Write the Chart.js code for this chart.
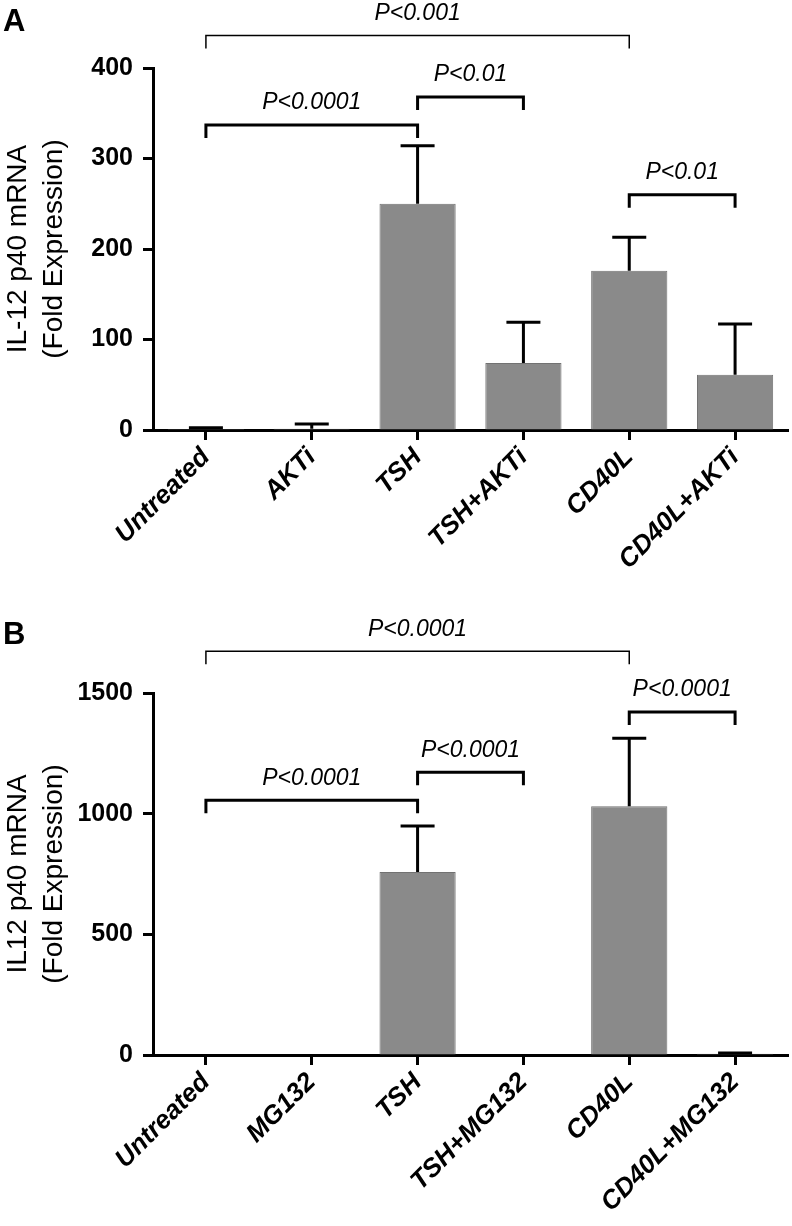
<!DOCTYPE html>
<html>
<head>
<meta charset="utf-8">
<script src="https://cdn.jsdelivr.net/npm/chart.js@4.4.1/dist/chart.umd.min.js"></script>
<style>
  body { margin: 0; background: #fff; width: 792px; height: 1226px; overflow: hidden; font-family: "Liberation Sans", Arial, sans-serif; }
  .panel { position: relative; width: 792px; height: 613px; }
  .letter { position: absolute; left: 3px; top: 5px; font-weight: bold; font-size: 31px; line-height: 31px; }
</style>
</head>
<body>
<div class="panel"><canvas id="chartA" width="792" height="613"></canvas><div class="letter">A</div></div>
<div class="panel"><canvas id="chartB" width="792" height="613"></canvas><div class="letter">B</div></div>
<script>
// panel A
const categoriesA = ["Untreated", "AKTi", "TSH", "TSH+AKTi", "CD40L", "CD40L+AKTi"]
const meansA = [1, 1.5, 250, 74, 176, 61]
const sdA = [1.5, 5, 64, 45, 37, 56]
const bracketFromA = [0, 0, 2, 4]
const bracketToA = [4, 2, 3, 5]
const bracketLevelA = [436, 337, 368, 260]
const bracketTextA = ["P<0.001", "P<0.0001", "P<0.01", "P<0.01"]

// panel B
const categoriesB = ["Untreated", "MG132", "TSH", "TSH+MG132", "CD40L", "CD40L+MG132"]
const meansB = [0, 0, 758, 0, 1031, 5]
const sdB = [0, 0, 191, 0, 282, 3]
const bracketFromB = [0, 0, 2, 4]
const bracketToB = [4, 2, 3, 5]
const bracketLevelB = [1673, 1056, 1172, 1421]
const bracketTextB = ["P<0.0001", "P<0.0001", "P<0.0001", "P<0.0001"]

const FONT = '"Liberation Sans", Arial, sans-serif'
Chart.defaults.font.family = FONT
Chart.defaults.color = '#000'

// upward SD whiskers with a cap
const errorBars = {
  id: 'errorBars',
  afterDatasetsDraw(chart, args, opts) {
    const ctx = chart.ctx
    const y = chart.scales.y
    const values = chart.data.datasets[0].data
    ctx.save()
    ctx.strokeStyle = '#000'
    ctx.lineWidth = 3
    chart.getDatasetMeta(0).data.forEach((bar, i) => {
      const sd = opts.sd[i]
      if (!sd) return
      const top = y.getPixelForValue(values[i] + sd)
      ctx.beginPath()
      ctx.moveTo(bar.x, bar.y)
      ctx.lineTo(bar.x, top)
      ctx.moveTo(bar.x - 17, top)
      ctx.lineTo(bar.x + 17, top)
      ctx.stroke()
    })
    ctx.restore()
  }
}

// significance brackets with p-value labels
const brackets = {
  id: 'brackets',
  afterDraw(chart, args, opts) {
    const ctx = chart.ctx
    const x = chart.scales.x
    const y = chart.scales.y
    ctx.save()
    ctx.strokeStyle = '#000'
    ctx.fillStyle = '#000'
    ctx.lineJoin = 'miter'
    ctx.font = 'italic 23px ' + FONT
    ctx.textAlign = 'center'
    ctx.textBaseline = 'middle'
    opts.from.forEach((from, k) => {
      const to = opts.to[k]
      const x1 = x.getPixelForValue(from)
      const x2 = x.getPixelForValue(to)
      const yy = y.getPixelForValue(opts.level[k])
      ctx.lineWidth = (to - from) > 2 ? 1.5 : 3
      ctx.beginPath()
      ctx.moveTo(x1, yy + 13)
      ctx.lineTo(x1, yy)
      ctx.lineTo(x2, yy)
      ctx.lineTo(x2, yy + 13)
      ctx.stroke()
      ctx.fillText(opts.text[k], (x1 + x2) / 2, yy - 22)
    })
    ctx.restore()
  }
}

function makeChart(el, cats, means, sd, yMax, yStep, yTitle, topPad, xHeight, br) {
  return new Chart(document.getElementById(el), {
    type: 'bar',
    data: {
      labels: cats,
      datasets: [{
        data: means,
        backgroundColor: '#8a8a8a',
        borderColor: '#727272',
        borderWidth: 1,
        barPercentage: 0.72,
        categoryPercentage: 1
      }]
    },
    options: {
      responsive: false,
      animation: false,
      layout: { padding: { top: topPad, right: 4, bottom: 0, left: 0 } },
      plugins: {
        legend: { display: false },
        tooltip: { enabled: false },
        errorBars: { sd: sd },
        brackets: br
      },
      scales: {
        x: {
          offset: true,
          grid: { offset: false, drawOnChartArea: false, tickLength: 10, tickWidth: 3, tickColor: '#000' },
          border: { display: true, color: '#000', width: 3 },
          ticks: {
            color: '#000',
            autoSkip: false,
            maxRotation: 45,
            minRotation: 45,
            padding: 2,
            font: { size: 26, weight: 'bold', style: 'italic' }
          },
          afterFit(s) { s.height = xHeight }
        },
        y: {
          min: 0,
          max: yMax,
          grid: { drawOnChartArea: false, tickLength: 10, tickWidth: 3, tickColor: '#000' },
          border: { display: true, color: '#000', width: 3 },
          ticks: {
            stepSize: yStep,
            padding: 10,
            color: '#000',
            font: { size: 25, weight: 'bold' },
            callback: v => String(v)
          },
          title: {
            display: true,
            text: yTitle,
            color: '#000',
            padding: { top: 0, bottom: 0 },
            font: { size: 28, lineHeight: 1.3 }
          },
          afterFit(s) { s.width = 153 }
        }
      }
    },
    plugins: [errorBars, brackets]
  })
}

makeChart('chartA', categoriesA, meansA, sdA, 400, 100,
  ["IL-12 p40 mRNA", "(Fold Expression)"], 68, 183,
  { from: bracketFromA, to: bracketToA, level: bracketLevelA, text: bracketTextA })

makeChart('chartB', categoriesB, meansB, sdB, 1500, 500,
  ["IL12 p40 mRNA", "(Fold Expression)"], 80, 171,
  { from: bracketFromB, to: bracketToB, level: bracketLevelB, text: bracketTextB })
</script>
</body>
</html>
